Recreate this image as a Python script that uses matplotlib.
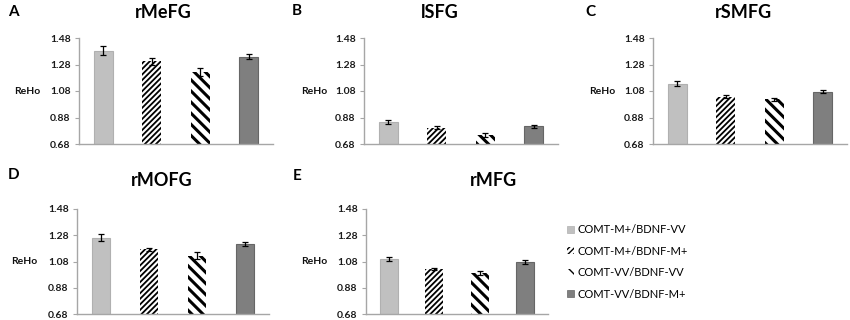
import numpy as np
import matplotlib
matplotlib.use("Agg")
from matplotlib import pyplot as plt
from matplotlib import transforms
from matplotlib.patches import Patch

plt.rcParams['font.family'] = ['Lato', 'DejaVu Sans']

groups = ["COMT-M+/BDNF-VV", "COMT-M+/BDNF-M+", "COMT-VV/BDNF-VV", "COMT-VV/BDNF-M+"]
regions = ["rMeFG", "lSFG", "rSMFG", "rMOFG", "rMFG"]
letters = ["A", "B", "C", "D", "E"]

mefg = [1.385, 1.304, 1.223, 1.339]
mefg_err = [0.035, 0.027, 0.033, 0.020]
sfg = [0.846, 0.803, 0.750, 0.813]
sfg_err = [0.013, 0.010, 0.015, 0.010]
smfg = [1.135, 1.037, 1.017, 1.075]
smfg_err = [0.020, 0.010, 0.012, 0.010]
mofg = [1.261, 1.173, 1.124, 1.213]
mofg_err = [0.028, 0.012, 0.025, 0.012]
mfg = [1.099, 1.023, 0.995, 1.076]
mfg_err = [0.018, 0.010, 0.015, 0.018]

yticks = [0.68, 0.88, 1.08, 1.28, 1.48]

values = [mefg, sfg, smfg, mofg, mfg]
errors = [mefg_err, sfg_err, smfg_err, mofg_err, mfg_err]

# bar styles: facecolor, edgecolor, hatch, hatch linewidth
styles = [("#c0c0c0", "#b0b0b0", None, 1.0),
          ("white", "black", "//////", 1.3),
          ("white", "black", "\\\\\\", 2.2),
          ("#7f7f7f", "#666666", None, 1.0)]

W, H = 850, 320
# axes boxes in pixels: left, right, top, bottom
boxes = [(79, 273, 38, 144), (364, 558, 38, 144), (653, 847, 38, 144),
         (77, 269, 209, 314), (366, 548, 209, 314)]
title_pos = [(163, 12), (440, 12), (743, 12), (162, 180), (493, 180)]
letter_pos = [(8, 12), (292, 11), (585, 12), (8, 175), (293, 176)]
reho_x = [27, 314, 602, 24, 314]

fig = plt.figure(figsize=(W / 100, H / 100), dpi=100)

for i in range(5):
    l, r, t, b = boxes[i]
    ax = fig.add_axes([l / W, 1 - b / H, (r - l) / W, (b - t) / H])
    x = np.arange(4)
    for j in range(4):
        fc, ec, hatch, hlw = styles[j]
        plt.rcParams['hatch.linewidth'] = hlw
        bars = ax.bar(x[j], values[i][j] - 0.68, bottom=0.68, width=0.39,
                      color=fc, edgecolor=ec, hatch=hatch,
                      linewidth=0 if hatch else 0.8)
        for p in bars:
            if hasattr(p, "set_hatch_linewidth"):
                p.set_hatch_linewidth(hlw)
    ax.errorbar(x, values[i], yerr=errors[i], fmt="none", ecolor="black",
                elinewidth=0.9, capsize=2.2, capthick=0.9)
    ax.set_xlim(-0.5, 3.5)
    ax.set_ylim(0.68, 1.48)
    ax.set_yticks(yticks)
    ax.set_yticklabels(["%.2f" % v for v in yticks])
    ax.set_xticks([])
    for s in ["top", "right"]:
        ax.spines[s].set_visible(False)
    for s in ["left", "bottom"]:
        ax.spines[s].set_color("#a6a6a6")
        ax.spines[s].set_linewidth(1.0)
    ax.tick_params(axis="y", length=3, width=0.8, color="#a6a6a6",
                   labelsize=7.5, labelcolor="#1a1a1a", pad=3)
    for lab in ax.get_yticklabels():
        lab.set_fontweight("bold")
    tr = transforms.blended_transform_factory(fig.transFigure, ax.transData)
    ax.text(reho_x[i] / W, 1.08, "ReHo", transform=tr, ha="center", va="center",
            fontsize=7.5, fontweight="bold", color="#111111")
    fig.text(title_pos[i][0] / W, 1 - title_pos[i][1] / H, regions[i],
             ha="center", va="center", fontsize=13, fontweight="bold")
    fig.text(letter_pos[i][0] / W, 1 - letter_pos[i][1] / H, letters[i],
             ha="left", va="center", fontsize=11, fontweight="bold")

handles = []
for j in range(4):
    fc, ec, hatch, hlw = styles[j]
    handles.append(Patch(facecolor=fc, edgecolor=ec, hatch=hatch,
                         linewidth=0 if hatch else 0.5))
plt.rcParams['hatch.linewidth'] = 1.0
fig.legend(handles, groups, loc="upper left", bbox_to_anchor=(567 / W, 1 - 224 / H),
           frameon=False, fontsize=8, handlelength=0.6, handleheight=0.6,
           handletextpad=0.35, labelspacing=0.95, borderpad=0, borderaxespad=0)

fig.savefig("out.png", dpi=100)
